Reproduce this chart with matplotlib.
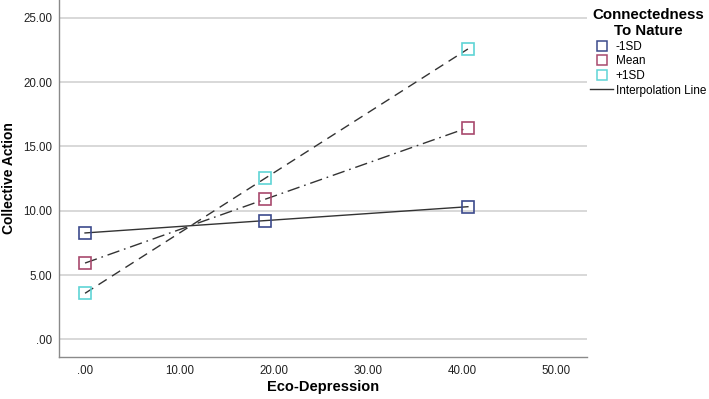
import matplotlib.pyplot as plt
from matplotlib.lines import Line2D

plt.rcParams['font.family'] = ['Liberation Sans', 'DejaVu Sans']

# =========================
# DATA
# =========================

eco_depression = [0.0, 19.1, 40.6]

low_ctn = [8.27, 9.23, 10.31]
mean_ctn = [5.93, 10.89, 16.45]
high_ctn = [3.58, 12.52, 22.57]

group_labels = ['-1SD', 'Mean', '+1SD']

x_ticks = [0, 10, 20, 30, 40, 50]
y_ticks = [0, 5, 10, 15, 20, 25]


def fmt(v):
    s = f"{v:.2f}"
    return s[1:] if s.startswith("0") else s


# =========================
# STYLE
# =========================

colors = ['#3c4a8c', '#a8496d', '#5fd4d6']
line_color = '#333333'
dash_styles = ['-', (0, (9, 3.5, 1.2, 3.5)), (0, (7, 4.5))]


# =========================
# PLOT
# =========================

fig = plt.figure(figsize=(7.09, 3.99), dpi=100)
ax = fig.add_axes([59 / 709, 1 - 356.7 / 399, (586.7 - 59) / 709, 356.7 / 399])

series = [low_ctn, mean_ctn, high_ctn]

for ys, col, ls in zip(series, colors, dash_styles):
    ax.plot(eco_depression, ys, color=line_color, linestyle=ls, linewidth=1.0, zorder=2)
    ax.plot(eco_depression, ys, linestyle='none', marker='s', markersize=9,
            markerfacecolor='none', markeredgecolor=col, markeredgewidth=1.2, zorder=3)

ax.set_xlim(-2.76, 53.2)
ax.set_ylim(-1.35, 26.38)

ax.set_xticks(x_ticks)
ax.set_xticklabels([fmt(v) for v in x_ticks])
ax.set_yticks(y_ticks)
ax.set_yticklabels([fmt(v) for v in y_ticks])
ax.tick_params(axis='both', length=0, labelsize=8.3, colors='#222222')
ax.tick_params(axis='y', pad=5)
ax.tick_params(axis='x', pad=6)

ax.yaxis.grid(True, color='#d2d2d2', linewidth=1.2)
ax.set_axisbelow(True)

for side in ['top', 'right']:
    ax.spines[side].set_visible(False)
for side in ['left', 'bottom']:
    ax.spines[side].set_color('#8a8a8a')
    ax.spines[side].set_linewidth(1.0)

ax.set_xlabel('Eco-Depression', fontsize=10.5, fontweight='bold', labelpad=2)
ax.set_ylabel('Collective Action', fontsize=10, fontweight='bold', labelpad=5)


# =========================
# LEGEND
# =========================

handles = [
    Line2D([], [], linestyle='none', marker='s', markersize=7.5,
           markerfacecolor='none', markeredgecolor=c, markeredgewidth=1.1)
    for c in colors
]
handles.append(Line2D([], [], color=line_color, linewidth=1.0))

leg = fig.legend(handles, group_labels + ['Interpolation Line'],
                 title='Connectedness\nTo Nature',
                 loc='upper left', bbox_to_anchor=(588 / 709, 0.986),
                 frameon=False, fontsize=8.5, handlelength=1.95,
                 handletextpad=0.2, labelspacing=0.22, borderaxespad=0,
                 borderpad=0.2)
plt.setp(leg.get_title(), fontweight='bold', fontsize=10.8, multialignment='center')

plt.savefig('out.png', dpi=100)
